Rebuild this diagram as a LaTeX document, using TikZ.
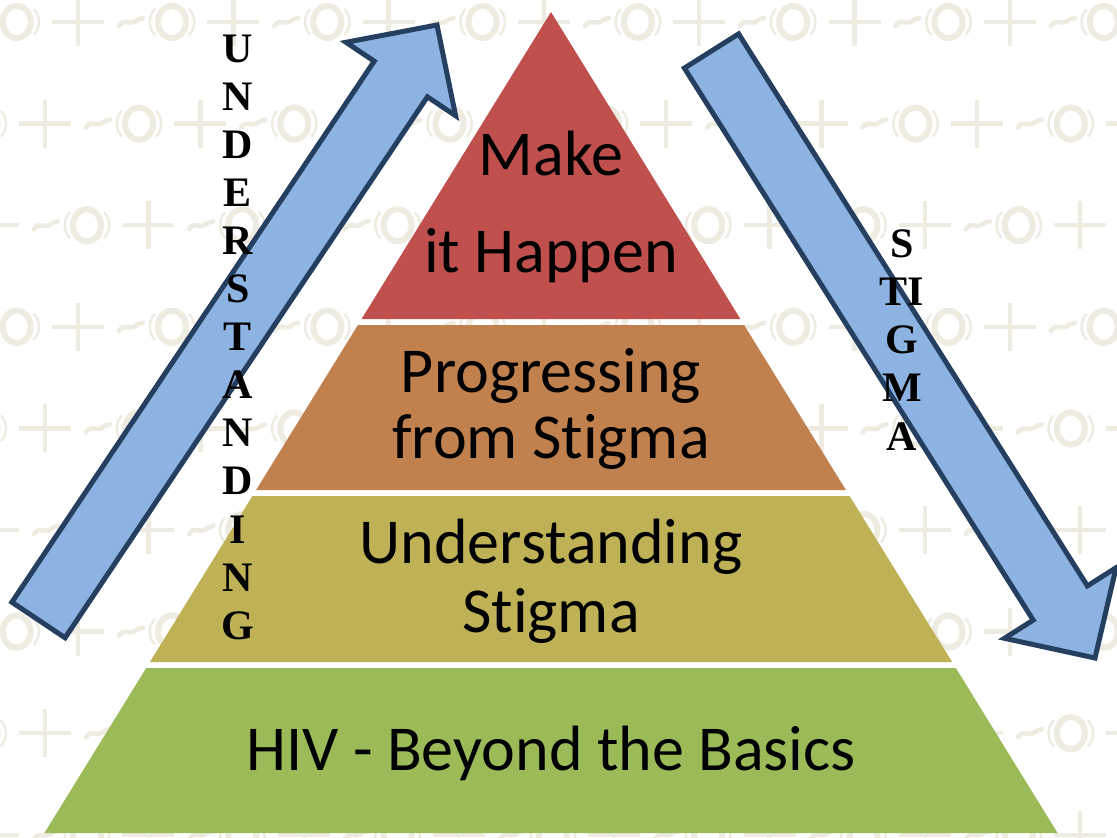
\documentclass[tikz,border=0pt]{standalone}
\usepackage{fontspec}
\setmainfont{Carlito}[Ligatures={NoCommon}]
\newfontfamily\letterfont{Liberation Serif}
\definecolor{bgc}{RGB}{238,235,224}
\definecolor{lyred}{HTML}{C0504D}
\definecolor{lyorange}{HTML}{C0814F}
\definecolor{lyolive}{HTML}{BEB156}
\definecolor{lygreen}{HTML}{9BBB59}
\definecolor{arrfill}{HTML}{8DB3E2}
\definecolor{arrline}{HTML}{243F60}
\begin{document}
\begin{tikzpicture}[x=1pt,y=-1pt,
  bgstroke/.style={draw=bgc,line width=4.5pt},
  bgplus/.pic={\draw[bgstroke] (-26,0) -- (26,0) (0,-24) -- (0,24);},
  bgwave/.pic={\draw[bgstroke,line cap=round] (-12,4) .. controls (-7,-4) and (-1,3) .. (3,0) .. controls (6,-2) and (9,-4) .. (12,-4);},
  bgoh/.pic={\draw[draw=bgc,line width=6pt] (0,0) ellipse (14 and 16);
             \draw[draw=bgc,line width=2.4pt] (-17,-13) .. controls (-24,-6) and (-24,6) .. (-17,13)
                                            (17,-13) .. controls (24,-6) and (24,6) .. (17,13);},
  blockarrow/.style={fill=arrfill,draw=arrline,line width=5pt,line join=miter},
  lvl/.style={anchor=base,font=\fontsize{64}{64}\selectfont,inner sep=0pt},
  vlet/.style={anchor=base,font=\letterfont\bfseries\fontsize{42}{42}\selectfont,inner sep=0pt}]
\useasboundingbox (0,0) rectangle (1117,838);
\fill[white] (0,0) rectangle (1117,838);
% background pattern
\foreach \r in {0,...,8}{
  \pgfmathsetmacro\yy{22+101.6*\r}
  \pgfmathsetmacro\off{mod(\r,3)==0 ? 78 : (mod(\r,3)==1 ? 45 : -7)}
  \foreach \k in {-1,...,7}{
    \pgfmathsetmacro\xx{\off+155.3*\k}
    \pic at (\xx,\yy) {bgplus};
    \pic at (\xx+53,\yy) {bgwave};
    \pic at (\xx+94,\yy) {bgoh};
  }
}
% pyramid layers
\fill[lyred]    (551,12) -- (740.4,319) -- (361.6,319) -- cycle;
\fill[lyorange] (357.9,325) -- (744.1,325) -- (845.9,490) -- (256.1,490) -- cycle;
\fill[lyolive]  (252.4,496) -- (849.6,496) -- (952.1,662) -- (149.9,662) -- cycle;
\fill[lygreen]  (146.2,668) -- (955.8,668) -- (1057.6,833) -- (44.4,833) -- cycle;
% arrows
\draw[blockarrow] (11.9,602.2) -- (374.2,61.2) -- (346.0,42.3) -- (437,25) -- (455.6,115.7) -- (427.4,96.8) -- (65.1,637.8) -- cycle;
\draw[blockarrow] (684.4,68.1) -- (738.6,33.9) -- (1087.4,585.9) -- (1116.1,567.7) -- (1095,658) -- (1004.5,638.3) -- (1033.2,620.1) -- cycle;
% level texts
\node[lvl] (make) at (551,175) {Make};
\node[lvl] (happen) at (551,272) {it Happen};
\node[lvl] (prog) at (551,392) {Progressing};
\node[lvl] (from) at (551,458) {from Stigma};
\node[lvl] (under) at (551,563) {Understanding};
\node[lvl] (stig) at (551,632) {Stigma};
\node[lvl] (hiv) at (551,770) {HIV - Beyond the Basics};
% vertical words
\foreach \ch [count=\i from 0] in {U,N,D,E,R,S,T,A,N,D,I,N,G}{
  \node[vlet] (u\i) at (238,{62+48.1*\i}) {\ch};
}
\foreach \ch [count=\i from 0] in {S,TI,G,M,A}{
  \node[vlet] (s\i) at (902,{257+48.3*\i}) {\ch};
}
\end{tikzpicture}
\end{document}
